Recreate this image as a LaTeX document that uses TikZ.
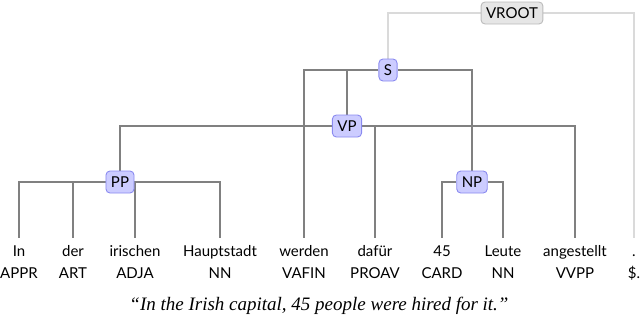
\documentclass[tikz,border=0pt]{standalone}
\usepackage{fontspec}
\setmainfont{Lato}
\newfontfamily\capfont{Liberation Serif}
\usetikzlibrary{positioning,backgrounds}
\definecolor{catfill}{HTML}{CCCCFF}
\definecolor{catdraw}{HTML}{8A8AF0}
\definecolor{rootfill}{HTML}{E6E6E6}
\definecolor{rootdraw}{HTML}{BBBBBB}
\definecolor{edgec}{HTML}{808080}
\definecolor{rootedge}{HTML}{DADADA}
\newcommand{\lblsize}{\fontsize{15}{17}\selectfont}
\tikzset{
  cat/.style={draw=catdraw,fill=catfill,line width=0.9pt,rounded corners=4pt,
    inner xsep=5pt,inner ysep=0pt,minimum height=22pt,text height=10.5pt,text depth=0.5pt},
  vroot/.style={cat,draw=rootdraw,fill=rootfill},
  tok/.style={anchor=base,text height=12pt,text depth=3pt,inner xsep=1pt,inner ysep=6pt},
  tag/.style={text height=10.5pt,text depth=3pt,inner xsep=1pt,inner ysep=2.5pt},
  edge/.style={draw=edgec,line width=1.3pt},
  rootlink/.style={edge,draw=rootedge},
  capt/.style={anchor=base,font=\capfont\itshape\fontsize{19}{22}\selectfont},
}
\begin{document}
\begin{tikzpicture}[x=1pt,y=-1pt,every node/.style={font=\lblsize}]
  \useasboundingbox (0,0) rectangle (640,316);
  % tokens with their tags
  \foreach \n/\x/\w/\t in {in/19/In/APPR, der/73/der/ART, iri/135/irischen/ADJA,
      hpt/220/Hauptstadt/NN, wer/304/werden/VAFIN, daf/375/dafür/PROAV,
      card/442/45/CARD, leu/503/Leute/NN, ang/575/angestellt/VVPP, pun/634/./\$.}{
    \node[tok] (\n) at (\x,256) {\w};
    \node[tag,below=0pt of \n] (\n-t) {\t};
  }
  % phrase nodes
  \node[cat] (pp) at (120,182) {PP};
  \node[cat] (np) at (472,182) {NP};
  \node[cat] (vp) at (347,126) {VP};
  \node[cat] (s) at (388,70) {S};
  \node[vroot] (root) at (512,13) {VROOT};
  \begin{scope}[on background layer]
    \draw[edge] (pp) -| (in);
    \draw[edge] (pp) -| (der);
    \draw[edge] (pp) -| (iri);
    \draw[edge] (pp) -| (hpt);
    \draw[edge] (np) -| (card);
    \draw[edge] (np) -| (leu);
    \draw[edge] (vp) -| (pp);
    \draw[edge] (vp) -| (daf);
    \draw[edge] (vp) -| (ang);
    \draw[edge] (s) -| (wer);
    \draw[edge] (s) -| (vp);
    \draw[edge] (s) -| (np);
    \draw[rootlink] (root) -| (s);
    \draw[rootlink] (root) -| (pun);
  \end{scope}
  \node[capt] (cap) at (319,310) {“In the Irish capital, 45 people were hired for it.”};
\end{tikzpicture}
\end{document}
